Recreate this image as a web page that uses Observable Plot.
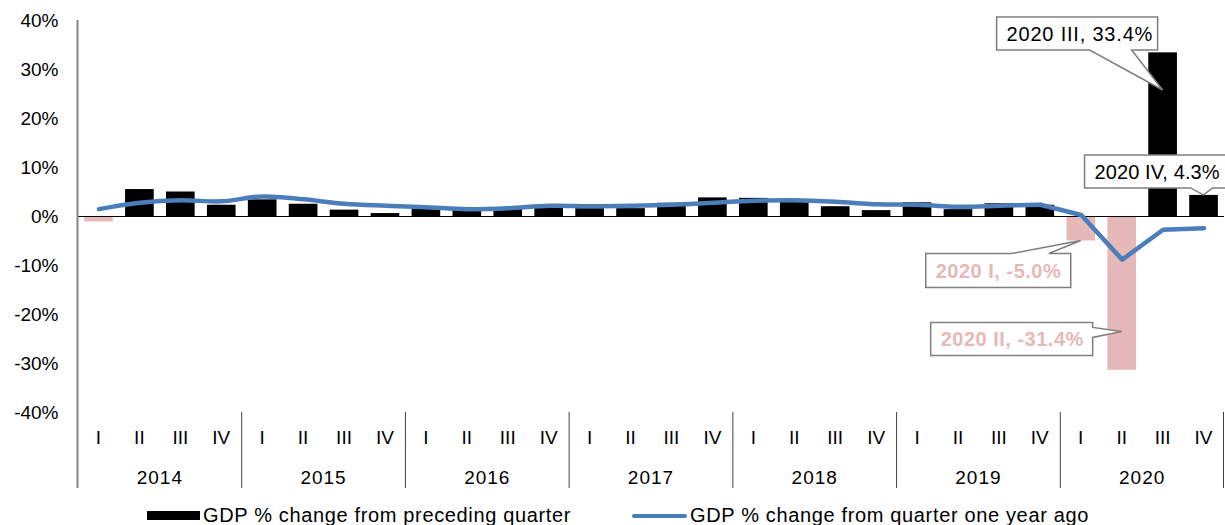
<!DOCTYPE html>
<html><head><meta charset="utf-8">
<script src="https://cdn.jsdelivr.net/npm/d3@7"></script>
<script src="https://cdn.jsdelivr.net/npm/@observablehq/plot@0.6"></script>
<style>
html,body{margin:0;padding:0;background:#fff;overflow:hidden;}
#chart{position:relative;width:1225px;height:525px;font-family:"Liberation Sans",Arial,sans-serif;color:#000;}
.legend{position:absolute;top:503px;left:0;width:1225px;height:24px;font-size:20px;line-height:24px;letter-spacing:0.65px;}
.legend .item{position:absolute;top:0;white-space:nowrap;}
.sw-bar{position:absolute;width:53px;height:9px;background:#000;top:8px;}
.sw-line{position:absolute;width:55px;height:4px;background:#4a7ebb;top:11px;border-radius:2px;}
</style></head><body><div id="chart"></div>
<script>
// ---- data ----
const years = ["2014","2015","2016","2017","2018","2019","2020"];
const quarterLabels = ["I","II","III","IV"];
const qoq = [-1.1,5.5,5.0,2.3, 3.4,2.5,1.3,0.6, 1.5,1.2,1.6,1.9, 1.6,1.6,2.7,3.8, 3.7,2.9,2.0,1.2, 2.8,1.4,2.6,2.3, -5.0,-31.4,33.4,4.3];
const yoy = [1.5,2.8,3.3,3.1, 4.1,3.5,2.6,2.2, 1.9,1.5,1.7,2.2, 2.1,2.2,2.4,2.8, 3.2,3.3,3.0,2.5, 2.4,2.0,2.2,2.4, 0.3,-8.8,-2.7,-2.4];
const yTicks = [-40,-30,-20,-10,0,10,20,30,40];
const seriesNames = ["GDP % change from preceding quarter","GDP % change from quarter one year ago"];
const annYears = ["2020","2020","2020","2020"];
const annQuarters = ["III","IV","I","II"];
const annValues = [33.4,4.3,-5.0,-31.4];

// ---- build table ----
const keys = [];
const rows = [];
years.forEach((yr, yi) => quarterLabels.forEach((q, qi) => {
  const i = yi * 4 + qi;
  const key = yr + "-" + q;
  keys.push(key);
  rows.push({key, i, year: yr, q, qoq: qoq[i], yoy: yoy[i]});
}));
const anns = annYears.map((yr, i) => ({key: yr + "-" + annQuarters[i], value: annValues[i],
  label: `${yr} ${annQuarters[i]}, ${annValues[i].toFixed(1)}%`}));
const lastCalm = keys.indexOf("2019-IV");

// ---- styles / layout ----
const FONT = '"Liberation Sans", Arial, sans-serif';
const BLACK = "#000000", PINK = "#e6b9b8", BLUE = "#4a7ebb";
const PAD = 0.3;
// callout layout (pixels relative to the anchor point), by index of anns
const calloutLayout = [
  {frac: 0.77, x0: -166, y0: -73, w: 161, h: 33, side: "bottom", b1: -73, b2: -31, ls: "0.8px"},
  {frac: 1.0,  x0: -119, y0: -40, w: 180, h: 33, side: "bottom", b1: -13, b2: 9,   ls: "0.1px"},
  {frac: 1.0,  x0: -155, y0: 13,  w: 145, h: 34, side: "top",    b1: -69, b2: -32, ls: "0.5px"},
  {frac: 0.75, x0: -191, y0: -9,  w: 162, h: 33, side: "right",  b1: -4,  b2: 6,   ls: "0.5px"}
];

function categoryAxis(index, scales, values, dims) {
  const sx = scales.x;
  const step = sx(keys[1]) - sx(keys[0]);
  const bw = step * (1 - PAD);
  const top = dims.height - dims.marginBottom;
  const g = d3.create("svg:g").attr("font-family", FONT).attr("font-size", 19).attr("fill", "#000")
    .attr("text-anchor", "middle");
  g.append("line").attr("x1", dims.marginLeft - 0.5).attr("x2", dims.marginLeft - 0.5)
    .attr("y1", dims.marginTop).attr("y2", top + 76).attr("stroke", "#868686").attr("stroke-width", 2);
  years.forEach((yr) => {
    const start = sx(yr + "-I") - (step - bw) / 2;
    if (yr !== years[0]) g.append("line").attr("x1", start).attr("x2", start)
      .attr("y1", top).attr("y2", top + 76).attr("stroke", "#404040").attr("stroke-width", 1);
    g.append("text").attr("x", start + 2 * step).attr("y", top + 65)
      .attr("dy", "0.35em").attr("letter-spacing", "1px").text(yr);
    quarterLabels.forEach(q => {
      g.append("text").attr("x", sx(yr + "-" + q) + bw / 2).attr("y", top + 25)
        .attr("dy", "0.35em").text(q);
    });
  });
  const endX = sx(keys[keys.length - 1]) + bw + (step - bw) / 2;
  g.append("line").attr("x1", endX - 0.5).attr("x2", endX - 0.5)
    .attr("y1", top).attr("y2", top + 76).attr("stroke", "#404040").attr("stroke-width", 1);
  return g.node();
}

function callouts(index, scales, values, dims) {
  const sx = scales.x, sy = scales.y;
  const step = sx(keys[1]) - sx(keys[0]);
  const bw = step * (1 - PAD);
  const g = d3.create("svg:g").attr("font-family", FONT);
  anns.forEach((a, i) => {
    const L = calloutLayout[i];
    const tx = sx(a.key) + bw / 2, ty = sy(a.value * L.frac);
    const x0 = tx + L.x0, y0 = ty + L.y0, x1 = x0 + L.w, y1 = y0 + L.h;
    let pts;
    if (L.side === "bottom") pts = [[x0,y0],[x1,y0],[x1,y1],[tx+L.b2,y1],[tx,ty],[tx+L.b1,y1],[x0,y1]];
    else if (L.side === "top") pts = [[x0,y0],[tx+L.b1,y0],[tx,ty],[tx+L.b2,y0],[x1,y0],[x1,y1],[x0,y1]];
    else pts = [[x0,y0],[x1,y0],[x1,ty+L.b1],[tx,ty],[x1,ty+L.b2],[x1,y1],[x0,y1]];
    g.append("path").attr("d", "M" + pts.map(p => p.join(",")).join("L") + "Z")
      .attr("fill", "#fff").attr("stroke", "#7f7f7f").attr("stroke-width", 1.5);
    const neg = a.value < 0;
    g.append("text").attr("x", x0 + 10).attr("y", (y0 + y1) / 2).attr("dy", "0.36em")
      .attr("text-anchor", "start").attr("letter-spacing", L.ls)
      .attr("font-size", 20).attr("font-weight", neg ? "bold" : "normal")
      .attr("fill", neg ? PINK : BLACK).text(a.label);
  });
  return g.node();
}

const W = 1225, H = 500;
const lineStyle = {x: "key", y: "yoy", stroke: BLUE, strokeWidth: 4.5, strokeLinecap: "round", strokeLinejoin: "round"};
const plot = Plot.plot({
  width: W, height: H,
  marginLeft: 78, marginRight: 1, marginTop: 20, marginBottom: 88,
  style: {fontFamily: FONT, fontSize: "19px", color: "#000", background: "transparent", overflow: "visible"},
  x: {type: "band", domain: keys, paddingInner: PAD, paddingOuter: PAD / 2, round: false, axis: null},
  y: {domain: [-40, 40], ticks: yTicks, tickFormat: d => d + "%", tickSize: 0, tickPadding: 20, label: null},
  marks: [
    Plot.barY(rows, {x: "key", y: "qoq", fill: BLACK, filter: d => d.qoq >= 0}),
    Plot.barY(rows, {x: "key", y: "qoq", fill: PINK, filter: d => d.qoq < 0}),
    Plot.ruleY([0], {stroke: "#000", strokeWidth: 1}),
    Plot.line(rows.filter(d => d.i <= lastCalm), {...lineStyle, curve: "catmull-rom"}),
    Plot.line(rows.filter(d => d.i >= lastCalm), {...lineStyle, curve: "linear"}),
    categoryAxis,
    callouts
  ]
});
const chart = document.getElementById("chart");
chart.appendChild(plot);
plot.style.display = "block";

const legend = document.createElement("div");
legend.className = "legend";
legend.innerHTML = `<div class="sw-bar" style="left:147px"></div><div class="item" style="left:203px">${seriesNames[0]}</div>
<div class="sw-line" style="left:632px"></div><div class="item" style="left:690px">${seriesNames[1]}</div>`;
chart.appendChild(legend);
</script>
</body></html>
